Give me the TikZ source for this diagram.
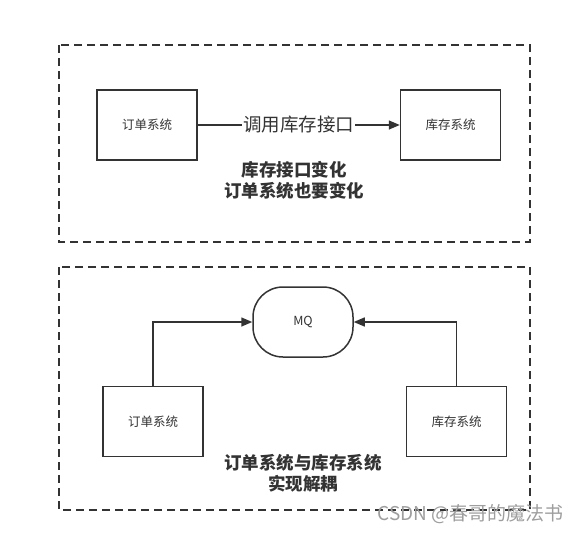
\documentclass[tikz,border=0pt]{standalone}
\usepackage{fontspec}
\setmainfont{Noto Sans CJK SC}
\usetikzlibrary{arrows.meta}
\definecolor{ink}{HTML}{333333}
\begin{document}
\begin{tikzpicture}[x=1pt,y=-1pt,
  frame/.style={draw=ink, line width=1.6pt, dash pattern=on 8pt off 5pt},
  sysbox/.style={draw=ink, line width=1.5pt, rectangle, minimum width=100pt, minimum height=70pt, inner sep=0pt, font=\fontsize{12.5}{15}\selectfont, text=ink},
  mqbox/.style={draw=ink, line width=1.5pt, rectangle, rounded corners=30pt, minimum width=100pt, minimum height=70pt, inner sep=0pt, font=\fontsize{12.5}{15}\selectfont, text=ink},
  conn/.style={draw=ink, line width=1.5pt, -{Triangle[length=11pt,width=9pt]}},
  note/.style={font=\bfseries\fontsize{17.5}{21}\selectfont, text=ink, align=center},
  lbl/.style={fill=white, inner sep=1pt, font=\fontsize{18.5}{22}\selectfont, text=ink}
]
\useasboundingbox (0,0) rectangle (579,533);
\fill[white] (0,0) rectangle (579,533);
% frames
\draw[frame] (59,45) rectangle (530,242);
\draw[frame] (59,267) rectangle (530,510);
% top part
\node[sysbox] (o1) at (147,125) {订单系统};
\node[sysbox] (k1) at (450.5,125) {库存系统};
\draw[conn] (o1) -- node[lbl] {调用库存接口} (k1);
\node[note] (t1) at (294,180) {库存接口变化\\订单系统也要变化};
% bottom part
\node[mqbox] (mq) at (303,322) {MQ};
\node[sysbox] (o2) at (153,421.5) {订单系统};
\node[sysbox] (k2) at (456.5,421.5) {库存系统};
\draw[conn] (o2.north) |- (mq.west);
\draw[conn] (k2.north) |- (mq.east);
\node[note] (t2) at (303,473) {订单系统与库存系统\\实现解耦};
% watermark
\node[text=black!38, font=\fontsize{19}{22}\selectfont, anchor=east, inner sep=0pt] (wm) at (564,514) {CSDN @春哥的魔法书};
\end{tikzpicture}
\end{document}
